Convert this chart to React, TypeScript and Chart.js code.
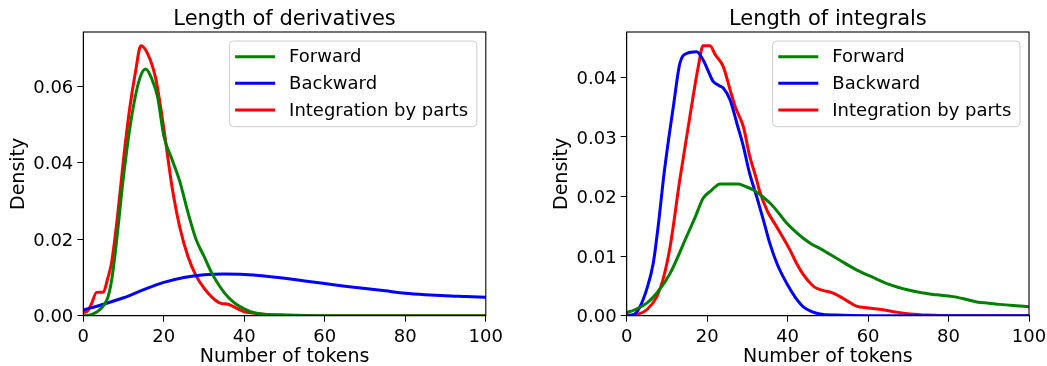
import React, { useEffect, useRef } from "react";
import { Chart, registerables } from "chart.js";

Chart.register(...registerables);

const SERIES_NAMES = ["Forward", "Backward", "Integration by parts"];
const SERIES_COLORS = ["#008000", "#0000ff", "#ff0000"];
const X_TICK_LABELS = ["0", "20", "40", "60", "80", "100"];

// ---- Length of derivatives ----
const derivForwardX = [0, 2, 4, 6, 7, 8, 10, 12, 14, 15.5, 17, 18.5, 20, 22, 24, 26, 28, 30, 32, 34, 36, 38, 40, 42, 45, 50, 60, 80, 100];
const derivForwardY = [0, 0.0003, 0.0015, 0.0045, 0.009, 0.017, 0.0365, 0.052, 0.062, 0.0645, 0.062, 0.057, 0.047, 0.041, 0.035, 0.027, 0.02, 0.0155, 0.011, 0.0075, 0.0048, 0.003, 0.0018, 0.0009, 0.0003, 0.0001, 0, 0, 0];

const derivBackwardX = [0, 5, 10, 15, 20, 25, 30, 35, 40, 45, 50, 55, 60, 65, 70, 75, 80, 85, 90, 95, 100];
const derivBackwardY = [0.0015, 0.003, 0.0047, 0.0068, 0.0087, 0.01, 0.0107, 0.0109, 0.0108, 0.0104, 0.0098, 0.0091, 0.0084, 0.0077, 0.0071, 0.0065, 0.0059, 0.0055, 0.0052, 0.005, 0.0048];

const derivPartsX = [0, 1, 2, 3.3, 5, 6, 7, 8.5, 10, 11.5, 13, 14.3, 16, 18, 20, 22, 24, 26, 28, 30, 32, 34, 36, 38, 40, 42, 45, 50, 60, 100];
const derivPartsY = [0.0008, 0.0012, 0.003, 0.0061, 0.0062, 0.0095, 0.0137, 0.026, 0.041, 0.054, 0.064, 0.0706, 0.0685, 0.062, 0.049, 0.034, 0.023, 0.0155, 0.0105, 0.0072, 0.0048, 0.0033, 0.003, 0.002, 0.001, 0.0007, 0.0004, 0.0002, 0, 0];

// ---- Length of integrals ----
const integForwardX = [0, 2, 5, 7.5, 10.8, 14.9, 17, 19, 21, 23.2, 27.7, 29.5, 31.5, 33.5, 35.6, 37.7, 39.8, 41.8, 43.9, 46, 48, 50, 53, 57.1, 61, 65.4, 70, 73.7, 77, 81.1, 84, 87, 90, 92.7, 96, 100];
const integForwardY = [0.0005, 0.001, 0.0021, 0.0038, 0.0071, 0.0133, 0.0165, 0.0197, 0.021, 0.0221, 0.0221, 0.0217, 0.0211, 0.0201, 0.0189, 0.0173, 0.0155, 0.0142, 0.013, 0.012, 0.0113, 0.0105, 0.0093, 0.0077, 0.0065, 0.0052, 0.0043, 0.0038, 0.0035, 0.0032, 0.0028, 0.0023, 0.0021, 0.0019, 0.0017, 0.0015];

const integBackwardX = [0, 2, 3.3, 5, 6.6, 8, 9.1, 10.5, 11.6, 13.2, 14.9, 17.4, 19, 20.3, 21.5, 23, 24, 25.7, 27.5, 29, 30.5, 32.3, 34, 35.6, 37.5, 39.8, 42, 43.9, 46, 48, 52, 60, 100];
const integBackwardY = [0, 0.0003, 0.0015, 0.0045, 0.0088, 0.016, 0.0228, 0.03, 0.0351, 0.0423, 0.044, 0.0443, 0.0429, 0.041, 0.0393, 0.0386, 0.0382, 0.0362, 0.032, 0.0284, 0.024, 0.02, 0.016, 0.0121, 0.0085, 0.0054, 0.003, 0.0015, 0.0007, 0.0003, 0.0001, 0, 0];

const integPartsX = [0, 3, 5, 7.5, 9, 10.8, 13.2, 15.7, 17.8, 19, 20.7, 22, 24, 25.7, 27, 29, 30.5, 32.3, 33, 35, 37.3, 40.6, 42.2, 44, 46, 47.2, 49, 51.3, 53, 55, 57.1, 60, 63.7, 67, 70.4, 75, 80, 100];
const integPartsY = [0, 0.0003, 0.001, 0.0032, 0.006, 0.0116, 0.0228, 0.0334, 0.0418, 0.0453, 0.0453, 0.0438, 0.0418, 0.0379, 0.035, 0.0317, 0.027, 0.0228, 0.021, 0.0175, 0.0149, 0.011, 0.0088, 0.0068, 0.0052, 0.0046, 0.0042, 0.0038, 0.0032, 0.0024, 0.0016, 0.0013, 0.001, 0.0006, 0.0003, 0.0001, 0, 0];

const FONT = "'DejaVu Sans', sans-serif";

function pts(xs: number[], ys: number[]) {
  return xs.map((x, i) => ({ x, y: ys[i] }));
}

const decorPlugin = {
  id: "mplDecor",
  afterDraw(chart: any, _args: any, opts: any) {
    const { ctx, chartArea: a } = chart;
    ctx.save();
    // spines
    ctx.strokeStyle = "#000";
    ctx.lineWidth = 1.1;
    ctx.strokeRect(a.left, a.top, a.right - a.left, a.bottom - a.top);
    // title
    ctx.fillStyle = "#000";
    ctx.font = `21px ${FONT}`;
    ctx.textAlign = "center";
    ctx.textBaseline = "alphabetic";
    ctx.fillText(opts.title, (a.left + a.right) / 2, 25);
    // legend
    const w = 247.4;
    const h = 85.7;
    const bx = a.right - 9 - w;
    const by = a.top + 9;
    ctx.beginPath();
    ctx.roundRect(bx, by, w, h, 4);
    ctx.fillStyle = "rgba(255,255,255,0.8)";
    ctx.fill();
    ctx.strokeStyle = "#cccccc";
    ctx.lineWidth = 1;
    ctx.stroke();
    ctx.font = `18px ${FONT}`;
    ctx.textAlign = "left";
    ctx.textBaseline = "middle";
    SERIES_NAMES.forEach((name, i) => {
      const y = by + 15.7 + i * 26.65;
      ctx.beginPath();
      ctx.moveTo(bx + 5.7, y);
      ctx.lineTo(bx + 45.7, y);
      ctx.strokeStyle = SERIES_COLORS[i];
      ctx.lineWidth = 3;
      ctx.stroke();
      ctx.fillStyle = "#000";
      ctx.fillText(name, bx + 59.7, y + 1);
    });
    ctx.restore();
  },
};

type Cfg = {
  title: string;
  series: { x: number[]; y: number[] }[];
  yMax: number;
  yStep: number;
  yAxisWidth: number;
  yTitlePad: number;
  padRight: number;
};

function makeConfig(c: Cfg): any {
  return {
    type: "line",
    data: {
      datasets: c.series.map((s, i) => ({
        label: SERIES_NAMES[i],
        data: pts(s.x, s.y),
        borderColor: SERIES_COLORS[i],
        backgroundColor: SERIES_COLORS[i],
        borderWidth: 3,
        pointRadius: 0,
        fill: false,
        cubicInterpolationMode: "monotone",
        clip: 0,
      })),
    },
    options: {
      responsive: false,
      animation: false,
      layout: { padding: { top: 32, right: c.padRight, left: 0, bottom: 0 } },
      plugins: {
        legend: { display: false },
        title: { display: false },
        tooltip: { enabled: false },
        mplDecor: { title: c.title },
      },
      scales: {
        x: {
          type: "linear",
          min: 0,
          max: 100,
          afterFit: (s: any) => {
            s.height = 50.3;
            s.paddingLeft = 0;
            s.paddingRight = 0;
          },
          grid: { display: true, drawOnChartArea: false, drawTicks: true, tickLength: 6, color: "#000" },
          border: { display: true, color: "#000", width: 1 },
          ticks: {
            stepSize: 20,
            padding: 5,
            color: "#000",
            font: { family: FONT, size: 18 },
            maxRotation: 0,
            callback: (v: number) => X_TICK_LABELS[Math.round(v / 20)] ?? String(v),
          },
          title: {
            display: true,
            text: "Number of tokens",
            color: "#000",
            font: { family: FONT, size: 19 },
            padding: { top: 0, bottom: -2 },
          },
        },
        y: {
          type: "linear",
          min: 0,
          max: c.yMax,
          afterFit: (s: any) => {
            s.width = c.yAxisWidth;
          },
          grid: { display: true, drawOnChartArea: false, drawTicks: true, tickLength: 6, color: "#000" },
          border: { display: true, color: "#000", width: 1 },
          ticks: {
            stepSize: c.yStep,
            includeBounds: false,
            padding: 4,
            labelOffset: 2,
            color: "#000",
            font: { family: FONT, size: 18 },
            callback: (v: number) => v.toFixed(2),
          },
          title: {
            display: true,
            text: "Density",
            color: "#000",
            font: { family: FONT, size: 19 },
            padding: { top: c.yTitlePad, bottom: 0 },
          },
        },
      },
    },
    plugins: [decorPlugin],
  };
}

function ChartCanvas({ cfg, left, width }: { cfg: Cfg; left: number; width: number }) {
  const ref = useRef<HTMLCanvasElement | null>(null);
  useEffect(() => {
    if (!ref.current) return;
    const chart = new Chart(ref.current, makeConfig(cfg));
    return () => chart.destroy();
  }, []);
  return (
    <canvas
      ref={ref}
      width={width}
      height={366}
      style={{ position: "absolute", left, top: 0, width, height: 366 }}
    />
  );
}

const derivCfg: Cfg = {
  title: "Length of derivatives",
  series: [
    { x: derivForwardX, y: derivForwardY },
    { x: derivBackwardX, y: derivBackwardY },
    { x: derivPartsX, y: derivPartsY },
  ],
  yMax: 0.0742,
  yStep: 0.02,
  yAxisWidth: 83.3,
  yTitlePad: 8,
  padRight: 37.2,
};

const integCfg: Cfg = {
  title: "Length of integrals",
  series: [
    { x: integForwardX, y: integForwardY },
    { x: integBackwardX, y: integBackwardY },
    { x: integPartsX, y: integPartsY },
  ],
  yMax: 0.0476,
  yStep: 0.01,
  yAxisWidth: 103.7,
  yTitlePad: 28,
  padRight: 18,
};

export default function App() {
  return (
    <div style={{ position: "absolute", left: 0, top: 0, width: 1047, height: 366, background: "#fff" }}>
      <ChartCanvas cfg={derivCfg} left={0} width={523} />
      <ChartCanvas cfg={integCfg} left={523} width={524} />
    </div>
  );
}
